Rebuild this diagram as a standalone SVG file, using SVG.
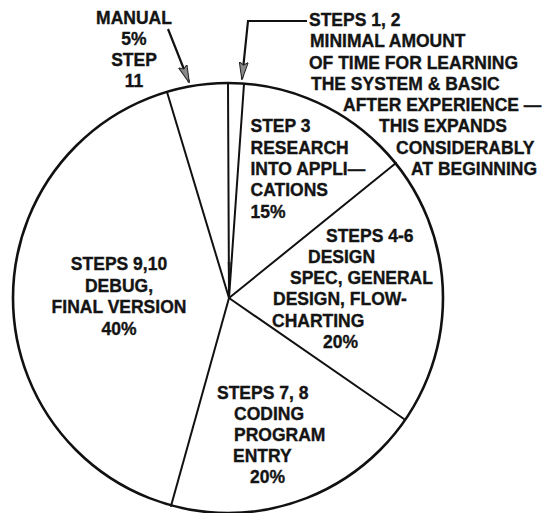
<svg xmlns="http://www.w3.org/2000/svg" width="546" height="513" viewBox="0 0 546 513">
<style>
  .lbl { font-family: "Liberation Sans", Arial, Helvetica, sans-serif; font-weight: bold; font-size: 17.5px; fill: #141414; stroke: #141414; stroke-width: 0.35; }
  .mid { text-anchor: middle; }
  .rim { fill: #ffffff; stroke: #111; stroke-width: 2.6; }
  .rad { stroke: #111; stroke-width: 2; fill: none; stroke-linecap: round; }
  .arr { stroke: #111; stroke-width: 2.2; fill: none; marker-end: url(#head); }
</style>
<defs>
  <marker id="head" viewBox="0 0 18 10" refX="17" refY="5" markerWidth="18" markerHeight="10" markerUnits="userSpaceOnUse" orient="auto">
    <path d="M0,0.5 L18,5 L0,9.5 L3,5 Z" fill="#8a8a8a" stroke="#222" stroke-width="1"/>
  </marker>
</defs>
<rect width="546" height="513" fill="#ffffff"/>

<g id="pie">
  <circle class="rim" cx="228" cy="298" r="215"/>
  <polygon points="229,298 227.6,262 232,262" fill="#888"/>
  <line class="rad" x1="229" y1="298" x2="228" y2="83"/>
  <line class="rad" x1="229" y1="298" x2="244" y2="84"/>
  <line class="rad" x1="229" y1="298" x2="396" y2="163"/>
  <line class="rad" x1="229" y1="298" x2="404" y2="419"/>
  <line class="rad" x1="229" y1="298" x2="171" y2="506"/>
  <line class="rad" x1="229" y1="298" x2="167" y2="92"/>
</g>

<g id="connectors">
  <line class="arr" x1="168" y1="29" x2="189" y2="82"/>
  <polyline class="arr" points="307,21 248,21 242,79"/>
</g>

<g id="manual">
  <text class="lbl mid" x="134" y="24">MANUAL</text>
  <text class="lbl mid" x="134" y="45">5%</text>
  <text class="lbl mid" x="134" y="65.5">STEP</text>
  <text class="lbl mid" x="134" y="86.5">11</text>
</g>

<g id="steps-1-2">
  <text class="lbl" x="309" y="26">STEPS 1, 2</text>
  <text class="lbl" x="310" y="47.3">MINIMAL AMOUNT</text>
  <text class="lbl" x="309" y="68.6">OF TIME FOR LEARNING</text>
  <text class="lbl" x="311" y="89.9">THE SYSTEM &amp; BASIC</text>
  <text class="lbl" x="343" y="111.1">AFTER EXPERIENCE —</text>
  <text class="lbl" x="379" y="132.4">THIS EXPANDS</text>
  <text class="lbl" x="396" y="153.7">CONSIDERABLY</text>
  <text class="lbl" x="411" y="175">AT BEGINNING</text>
</g>

<g id="step-3">
  <text class="lbl" x="250.5" y="132.4">STEP 3</text>
  <text class="lbl" x="250.5" y="153.7">RESEARCH</text>
  <text class="lbl" x="250.5" y="175">INTO APPLI—</text>
  <text class="lbl" x="250.5" y="196.3">CATIONS</text>
  <text class="lbl" x="250.5" y="217.6">15%</text>
</g>

<g id="steps-4-6">
  <text class="lbl" x="326" y="241.7">STEPS 4-6</text>
  <text class="lbl" x="308" y="262.9">DESIGN</text>
  <text class="lbl" x="290" y="284.1">SPEC, GENERAL</text>
  <text class="lbl" x="273" y="305.3">DESIGN, FLOW-</text>
  <text class="lbl" x="272" y="326.5">CHARTING</text>
  <text class="lbl" x="323" y="347.7">20%</text>
</g>

<g id="steps-7-8">
  <text class="lbl" x="217" y="398.5">STEPS 7, 8</text>
  <text class="lbl" x="234" y="419.7">CODING</text>
  <text class="lbl" x="234" y="440.9">PROGRAM</text>
  <text class="lbl" x="233" y="462.1">ENTRY</text>
  <text class="lbl" x="250" y="483.3">20%</text>
</g>

<g id="steps-9-10">
  <text class="lbl mid" x="119" y="270">STEPS 9,10</text>
  <text class="lbl mid" x="119" y="291.5">DEBUG,</text>
  <text class="lbl mid" x="119" y="313">FINAL VERSION</text>
  <text class="lbl mid" x="119" y="334.5">40%</text>
</g>
</svg>
